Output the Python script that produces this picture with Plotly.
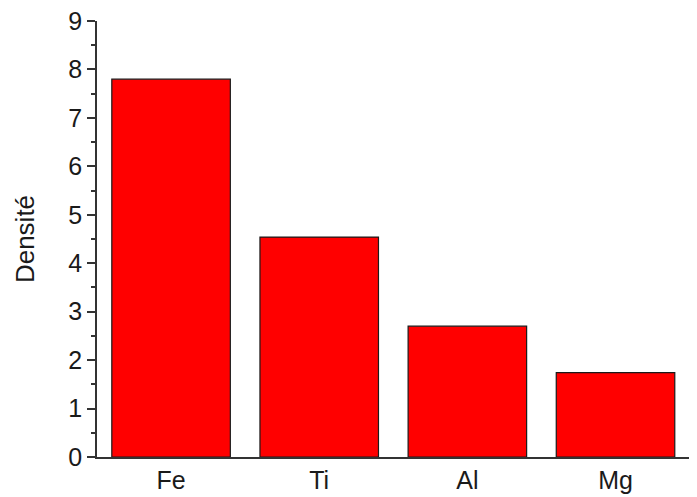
import plotly.graph_objects as go

elements = ["Fe", "Ti", "Al", "Mg"]
densities = [7.8, 4.54, 2.7, 1.74]
y_ticks = [0, 1, 2, 3, 4, 5, 6, 7, 8, 9]

fig = go.Figure(go.Bar(
    x=elements, y=densities, width=0.8,
    marker=dict(color="#ff0000", line=dict(color="#1a1a1a", width=1.2)),
))

font = dict(family="Liberation Sans, Arial", size=25, color="#1a1a1a")
fig.update_layout(
    width=697, height=497,
    margin=dict(l=89, r=8, t=13, b=48),
    paper_bgcolor="white", plot_bgcolor="white",
    showlegend=False, font=font,
    xaxis=dict(range=[-0.5, 3.55], showline=True, linecolor="#333333", linewidth=1.5,
               ticks="", showgrid=False, tickfont=font, fixedrange=True, automargin=False),
    yaxis=dict(range=[0, 9], tickvals=y_ticks, showline=True, linecolor="#333333",
               linewidth=1.5, ticks="outside", ticklen=8, tickwidth=1.5, tickcolor="#333333",
               minor=dict(dtick=0.5, ticks="outside", ticklen=4, tickwidth=1.5, tickcolor="#333333"),
               showgrid=False, zeroline=False, tickfont=font, ticklabeloverflow="allow",
               automargin=False,
               title=dict(text="Densité", font=dict(family="Liberation Sans, Arial", size=26, color="#1a1a1a"), standoff=26)),
)
fig.write_html("out.html")
